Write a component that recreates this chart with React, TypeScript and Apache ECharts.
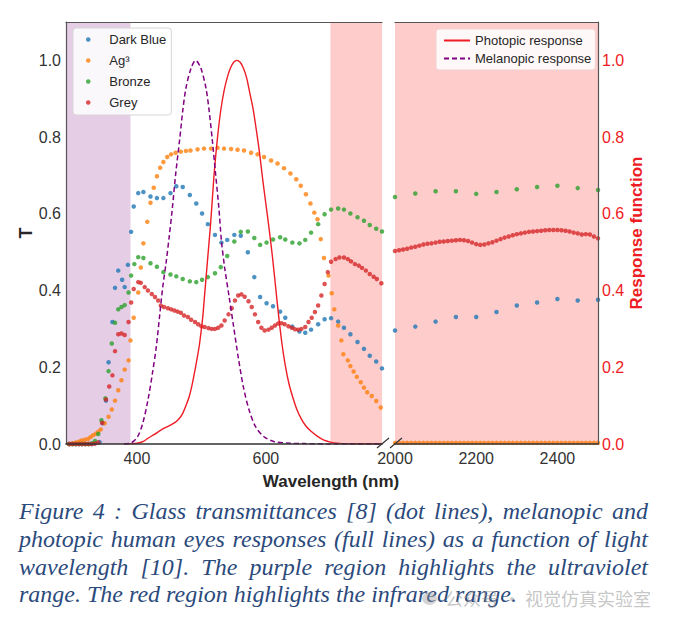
import React, { useEffect, useRef } from 'react';
import * as echarts from 'echarts';

const FONT = '"Liberation Sans", Arial, sans-serif';

// tab10 colours, as in the matplotlib original
const C_BLUE = '#1f77b4';
const C_ORANGE = '#ff7f0e';
const C_GREEN = '#2ca02c';
const C_RED = '#d62728';

const glassNames = ['Dark Blue', 'Ag³', 'Bronze', 'Grey'];
const responseNames = ['Photopic response', 'Melanopic response'];

// transmittance, visible part [nm, T]
const darkBlueVis: [number, number][] = [
  [295, 0], [300, 0], [305, 0], [310, 0], [315, 0], [320, 0], [325, 0], [330, 0], [335, 0.002],
  [342, 0.005], [347, 0.054], [352, 0.113], [356, 0.213], [362, 0.318], [366, 0.407], [371, 0.452],
  [377, 0.428], [381, 0.409], [386, 0.467], [391, 0.553], [395, 0.619], [402, 0.654], [410, 0.657],
  [421, 0.645], [431, 0.641], [441, 0.641], [452, 0.654], [461, 0.672], [471, 0.67], [482, 0.649],
  [492, 0.627], [501, 0.601], [510, 0.573], [521, 0.545], [531, 0.525], [540, 0.532], [551, 0.545],
  [561, 0.543], [572, 0.5], [582, 0.435], [591, 0.383], [601, 0.367], [611, 0.359], [622, 0.345],
  [630, 0.329], [641, 0.306], [652, 0.293], [661, 0.29], [670, 0.298], [681, 0.312], [691, 0.325],
  [701, 0.328], [712, 0.319], [721, 0.303], [731, 0.286], [742, 0.266], [752, 0.248], [761, 0.23],
  [771, 0.215], [780, 0.197],
];

const agVis: [number, number][] = [
  [295, 0], [300, 0.002], [305, 0.004], [310, 0.006], [314, 0.009], [319, 0.011], [324, 0.013],
  [328, 0.018], [332, 0.023], [336, 0.027], [340, 0.032], [344, 0.038], [350, 0.054], [356, 0.071],
  [361, 0.09], [366, 0.113], [371, 0.14], [376, 0.166], [381, 0.194], [387, 0.218], [390, 0.27],
  [395, 0.329], [402, 0.395], [406, 0.46], [410, 0.523], [416, 0.579], [421, 0.629], [426, 0.668],
  [431, 0.698], [436, 0.72], [441, 0.735], [447, 0.748], [453, 0.755], [460, 0.759], [468, 0.762],
  [476, 0.764], [483, 0.765], [494, 0.768], [504, 0.77], [515, 0.77], [525, 0.772], [535, 0.77],
  [546, 0.769], [556, 0.767], [566, 0.765], [577, 0.759], [587, 0.755], [597, 0.748], [608, 0.739],
  [618, 0.731], [628, 0.719], [638, 0.705], [647, 0.69], [654, 0.673], [662, 0.651], [669, 0.627],
  [675, 0.603], [680, 0.586], [685, 0.534], [690, 0.485], [697, 0.439], [702, 0.393], [706, 0.351],
  [712, 0.309], [717, 0.27], [720, 0.234], [727, 0.218], [731, 0.203], [736, 0.189], [741, 0.175],
  [747, 0.161], [752, 0.147], [757, 0.135], [764, 0.125], [771, 0.112], [778, 0.095],
];

const bronzeVis: [number, number][] = [
  [295, 0], [300, 0], [305, 0], [310, 0], [315, 0], [320, 0], [325, 0], [330, 0.002], [335, 0.008],
  [340, 0.026], [345, 0.062], [351, 0.119], [356, 0.19], [361, 0.262], [366, 0.316], [371, 0.351],
  [376, 0.357], [381, 0.362], [387, 0.395], [391, 0.439], [396, 0.469], [402, 0.487], [410, 0.485],
  [421, 0.471], [431, 0.462], [441, 0.448], [452, 0.442], [461, 0.437], [471, 0.43], [482, 0.424],
  [492, 0.422], [501, 0.428], [510, 0.435], [521, 0.445], [530, 0.461], [540, 0.49], [551, 0.528],
  [561, 0.553], [572, 0.554], [582, 0.537], [591, 0.519], [601, 0.525], [611, 0.533], [622, 0.539],
  [630, 0.533], [641, 0.525], [652, 0.523], [661, 0.532], [670, 0.551], [681, 0.573], [691, 0.599],
  [701, 0.611], [712, 0.614], [721, 0.611], [731, 0.601], [742, 0.591], [752, 0.582], [761, 0.571],
  [771, 0.561], [780, 0.554],
];

const greyVis: [number, number][] = [
  [295, 0], [300, 0], [305, 0], [310, 0], [315, 0], [320, 0], [325, 0], [330, 0], [335, 0.001],
  [340, 0.004], [346, 0.055], [352, 0.116], [357, 0.15], [362, 0.179], [366, 0.242], [371, 0.286],
  [376, 0.288], [381, 0.284], [387, 0.318], [391, 0.369], [395, 0.404], [402, 0.422], [406, 0.42],
  [412, 0.409], [417, 0.4], [423, 0.391], [428, 0.383], [433, 0.374], [437, 0.361], [442, 0.357],
  [448, 0.354], [453, 0.351], [458, 0.348], [463, 0.345], [468, 0.342], [473, 0.335], [479, 0.331],
  [484, 0.324], [490, 0.318], [495, 0.312], [500, 0.307], [505, 0.305], [511, 0.302], [516, 0.3],
  [521, 0.3], [526, 0.303], [531, 0.309], [536, 0.322], [542, 0.338], [547, 0.354], [552, 0.374],
  [557, 0.387], [562, 0.39], [567, 0.384], [573, 0.372], [578, 0.357], [583, 0.338], [588, 0.318],
  [593, 0.303], [598, 0.296], [604, 0.298], [609, 0.303], [614, 0.309], [619, 0.314], [624, 0.315],
  [629, 0.312], [635, 0.307], [640, 0.303], [645, 0.299], [650, 0.298], [655, 0.3], [661, 0.305],
  [666, 0.318], [671, 0.329], [676, 0.344], [681, 0.361], [686, 0.387], [691, 0.417], [696, 0.448],
  [701, 0.475], [708, 0.482], [714, 0.486], [721, 0.486], [727, 0.482], [732, 0.476], [738, 0.469],
  [744, 0.465], [749, 0.459], [755, 0.452], [761, 0.443], [767, 0.436], [772, 0.43], [779, 0.419],
];

// transmittance, infrared part
const irSparseWave = [2000, 2050, 2100, 2150, 2200, 2250, 2300, 2350, 2400, 2450, 2500];
const darkBlueIr = [0.296, 0.306, 0.319, 0.331, 0.331, 0.344, 0.361, 0.369, 0.378, 0.374, 0.376];
const bronzeIr = [0.644, 0.653, 0.659, 0.659, 0.652, 0.657, 0.664, 0.67, 0.673, 0.667, 0.662];

const irDenseWave = [
  2000, 2010, 2020, 2030, 2040, 2050, 2060, 2070, 2080, 2090, 2100, 2110, 2120, 2130, 2140, 2150,
  2160, 2170, 2180, 2190, 2200, 2210, 2220, 2230, 2240, 2250, 2260, 2270, 2280, 2290, 2300, 2310,
  2320, 2330, 2340, 2350, 2360, 2370, 2380, 2390, 2400, 2410, 2420, 2430, 2440, 2450, 2460, 2470,
  2480, 2490, 2500,
];
const greyIr = [
  0.503, 0.505, 0.507, 0.509, 0.512, 0.514, 0.517, 0.52, 0.522, 0.523, 0.525, 0.527, 0.528, 0.529,
  0.53, 0.531, 0.532, 0.531, 0.529, 0.525, 0.521, 0.519, 0.52, 0.523, 0.526, 0.53, 0.534, 0.538,
  0.541, 0.544, 0.547, 0.549, 0.551, 0.553, 0.554, 0.555, 0.556, 0.557, 0.558, 0.558, 0.558, 0.557,
  0.556, 0.554, 0.551, 0.549, 0.546, 0.547, 0.546, 0.541, 0.536,
];
const agIr = [
  0.003, 0.003, 0.003, 0.003, 0.003, 0.003, 0.003, 0.003, 0.003, 0.003, 0.003, 0.003, 0.003, 0.003,
  0.003, 0.003, 0.003, 0.003, 0.003, 0.003, 0.003, 0.003, 0.003, 0.003, 0.003, 0.003, 0.003, 0.003,
  0.003, 0.003, 0.003, 0.003, 0.003, 0.003, 0.003, 0.003, 0.003, 0.003, 0.003, 0.003, 0.003, 0.003,
  0.003, 0.003, 0.003, 0.003, 0.003, 0.003, 0.003, 0.003, 0.003,
];

// eye responses (normalised)
const photopic: [number, number][] = [
  [380, 0], [390, 0.001], [400, 0.002], [410, 0.007], [417, 0.015], [427, 0.025], [437, 0.036],
  [448, 0.046], [458, 0.055], [465, 0.065], [471, 0.08], [476, 0.1], [481, 0.123], [485, 0.15],
  [489, 0.184], [493, 0.22], [497, 0.26], [502, 0.33], [505, 0.39], [508, 0.45], [511, 0.51],
  [514, 0.57], [517, 0.64], [520, 0.71], [525, 0.8], [530, 0.87], [535, 0.92], [540, 0.955],
  [545, 0.98], [550, 0.995], [555, 1.0], [560, 0.995], [565, 0.98], [570, 0.955], [575, 0.915],
  [580, 0.875], [585, 0.82], [590, 0.76], [595, 0.69], [600, 0.625], [605, 0.56], [610, 0.49],
  [615, 0.41], [620, 0.33], [625, 0.26], [630, 0.205], [636, 0.155], [642, 0.12], [648, 0.09],
  [655, 0.065], [662, 0.047], [670, 0.033], [680, 0.02], [690, 0.01], [700, 0.005], [710, 0.002],
  [720, 0.001], [740, 0], [780, 0],
];

const melanopic: [number, number][] = [
  [380, 0], [391, 0.003], [401, 0.019], [409, 0.054], [417, 0.114], [424, 0.184], [430, 0.253],
  [435, 0.331], [440, 0.409], [445, 0.47], [450, 0.54], [455, 0.616], [460, 0.703], [466, 0.79],
  [471, 0.868], [476, 0.928], [484, 0.98], [491, 1.0], [499, 0.98], [507, 0.928], [512, 0.868],
  [517, 0.79], [522, 0.703], [527, 0.616], [531, 0.53], [536, 0.46], [543, 0.383], [550, 0.305],
  [557, 0.227], [565, 0.149], [574, 0.088], [584, 0.045], [597, 0.019], [613, 0.006], [637, 0.002],
  [660, 0.001], [700, 0], [780, 0],
];

// shaded ranges [from, to]
const uvRange = [290, 390];
const irRangeVis = [700, 780];
const irRangeFar = [2000, 2500];

const zip = (xs: number[], ys: number[]) => xs.map((x, i) => [x, ys[i]]);

const captionLines = [
  'Figure 4 : Glass transmittances [8] (dot lines), melanopic and',
  'photopic human eyes responses (full lines) as a function of light',
  'wavelength [10]. The purple region highlights the ultraviolet',
  'range. The red region highlights the infrared range.',
];

const scatter = (name: string, color: string, data: number[][], grid: number) => ({
  type: 'scatter',
  name,
  xAxisIndex: grid,
  yAxisIndex: grid,
  data,
  symbolSize: 4.5,
  itemStyle: { color },
  z: 3,
});

const axisBase = {
  type: 'value',
  z: 5,
  axisTick: { show: false },
  splitLine: { show: false },
};

const option = {
  animation: false,
  grid: [
    { left: 66, top: 22, width: 316, height: 422 },
    { left: 395, top: 22, width: 203, height: 422 },
  ],
  xAxis: [
    {
      ...axisBase, gridIndex: 0, min: 290, max: 780, position: 'bottom',
      axisLine: { show: true, onZero: false, lineStyle: { color: '#333', width: 1.6 } },
      axisLabel: {
        customValues: [400, 600], formatter: (v: number) => String(v),
        color: '#333', fontSize: 16, fontFamily: FONT, margin: 6,
      },
    },
    {
      ...axisBase, gridIndex: 1, min: 2000, max: 2500, position: 'bottom',
      axisLine: { show: true, onZero: false, lineStyle: { color: '#333', width: 1.6 } },
      axisLabel: {
        customValues: [2000, 2200, 2400], formatter: (v: number) => String(v),
        color: '#333', fontSize: 16, fontFamily: FONT, margin: 6,
      },
    },
    {
      ...axisBase, gridIndex: 0, min: 290, max: 780, position: 'top',
      axisLine: { show: true, onZero: false, lineStyle: { color: '#555', width: 1.2 } },
      axisLabel: { show: false },
    },
    {
      ...axisBase, gridIndex: 1, min: 2000, max: 2500, position: 'top',
      axisLine: { show: true, onZero: false, lineStyle: { color: '#555', width: 1.2 } },
      axisLabel: { show: false },
    },
  ],
  yAxis: [
    {
      ...axisBase, gridIndex: 0, min: 0, max: 1.1, position: 'left',
      axisLine: { show: true, onZero: false, lineStyle: { color: '#555', width: 1.2 } },
      axisLabel: {
        customValues: [0, 0.2, 0.4, 0.6, 0.8, 1.0],
        formatter: (v: number) => v.toFixed(1),
        color: '#333', fontSize: 16, fontFamily: FONT, margin: 5,
      },
      name: 'T',
      nameLocation: 'middle',
      nameGap: 29,
      nameTextStyle: { fontWeight: 'bold', fontSize: 18, color: '#262626', fontFamily: FONT },
    },
    {
      ...axisBase, gridIndex: 1, min: 0, max: 1.1, position: 'right',
      axisLine: { show: true, onZero: false, lineStyle: { color: '#555', width: 1.2 } },
      axisLabel: {
        customValues: [0, 0.2, 0.4, 0.6, 0.8, 1.0],
        formatter: (v: number) => v.toFixed(1),
        color: '#ee1c25', fontSize: 16, fontFamily: FONT, margin: 4,
      },
      name: 'Response function',
      nameLocation: 'middle',
      nameGap: 28,
      nameTextStyle: { fontWeight: 'bold', fontSize: 17, color: '#ee1c25', fontFamily: FONT },
    },
  ],
  legend: [
    {
      data: glassNames,
      orient: 'vertical',
      left: 73,
      top: 28,
      icon: 'circle',
      itemWidth: 32,
      itemHeight: 4.5,
      itemGap: 6,
      padding: [4, 5, 5, 13],
      backgroundColor: 'rgba(255,255,255,0.85)',
      borderColor: '#d6d6d6',
      borderWidth: 1,
      borderRadius: 3,
      textStyle: { fontSize: 13, color: '#262626', fontFamily: FONT, lineHeight: 15 },
    },
    {
      data: responseNames,
      orient: 'vertical',
      left: 436,
      top: 29,
      itemWidth: 26,
      itemHeight: 14,
      itemGap: 3,
      padding: [4, 4, 4, 7],
      itemStyle: { opacity: 0 },
      backgroundColor: 'rgba(255,255,255,0.85)',
      borderColor: '#f0d0d0',
      borderWidth: 1,
      borderRadius: 3,
      textStyle: { fontSize: 13, color: '#262626', fontFamily: FONT, lineHeight: 15 },
    },
  ],
  series: [
    {
      type: 'line', name: 'bg-vis', xAxisIndex: 0, yAxisIndex: 0, z: 1, silent: true,
      data: [[uvRange[0], -1]], symbol: 'none', lineStyle: { opacity: 0 },
      markArea: {
        silent: true,
        data: [
          [{ xAxis: uvRange[0], itemStyle: { color: '#e5cde6' } }, { xAxis: uvRange[1] }],
          [{ xAxis: irRangeVis[0], itemStyle: { color: '#ffcccc' } }, { xAxis: irRangeVis[1] }],
        ],
      },
    },
    {
      type: 'line', name: 'bg-ir', xAxisIndex: 1, yAxisIndex: 1, z: 1, silent: true,
      data: [[irRangeFar[0], -1]], symbol: 'none', lineStyle: { opacity: 0 },
      markArea: {
        silent: true,
        data: [[{ xAxis: irRangeFar[0], itemStyle: { color: '#ffcccc' } }, { xAxis: irRangeFar[1] }]],
      },
    },
    scatter('Dark Blue', C_BLUE, darkBlueVis, 0),
    scatter('Ag³', C_ORANGE, agVis, 0),
    scatter('Bronze', C_GREEN, bronzeVis, 0),
    scatter('Grey', C_RED, greyVis, 0),
    scatter('Dark Blue', C_BLUE, zip(irSparseWave, darkBlueIr), 1),
    scatter('Ag³', C_ORANGE, zip(irDenseWave, agIr), 1),
    scatter('Bronze', C_GREEN, zip(irSparseWave, bronzeIr), 1),
    scatter('Grey', C_RED, zip(irDenseWave, greyIr), 1),
    {
      type: 'line', name: 'Photopic response', xAxisIndex: 0, yAxisIndex: 0, z: 4,
      data: photopic, symbol: 'none', smooth: 0.3,
      lineStyle: { color: '#ee1c25', width: 1.4 },
      itemStyle: { color: '#ee1c25' },
    },
    {
      type: 'line', name: 'Melanopic response', xAxisIndex: 0, yAxisIndex: 0, z: 4,
      data: melanopic, symbol: 'none', smooth: 0.3,
      lineStyle: { color: '#800080', width: 1.5, type: [5, 3] },
      itemStyle: { color: '#800080' },
    },
  ],
  graphic: [
    { type: 'line', shape: { x1: 377, y1: 448, x2: 389, y2: 438 }, style: { stroke: '#333', lineWidth: 1.2 }, z: 10 },
    { type: 'line', shape: { x1: 390, y1: 448, x2: 402, y2: 438 }, style: { stroke: '#333', lineWidth: 1.2 }, z: 10 },
    {
      type: 'text', x: 331, y: 481, z: 10,
      style: {
        text: 'Wavelength (nm)', font: `bold 17px ${FONT}`, fill: '#262626',
        align: 'center', verticalAlign: 'middle',
      },
    },
  ],
};

export default function App() {
  const chartRef = useRef<HTMLDivElement>(null);

  useEffect(() => {
    const chart = echarts.init(chartRef.current, null, { renderer: 'svg' });
    chart.setOption(option as any);
    return () => chart.dispose();
  }, []);

  return (
    <div style={{ position: 'absolute', left: 0, top: 0, width: 675, height: 624, background: '#fff', overflow: 'hidden' }}>
      <div ref={chartRef} style={{ position: 'absolute', left: 0, top: 0, width: 675, height: 495 }} />
      <div
        style={{
          position: 'absolute', left: 19, top: 498, width: 629,
          fontFamily: '"Liberation Serif", "Times New Roman", serif', fontStyle: 'italic',
          fontSize: 24, color: '#2b4a7c',
        }}
      >
        {captionLines.map((line, i) => (
          <div
            key={i}
            style={{
              height: 27.8, lineHeight: '27.8px', whiteSpace: 'nowrap',
              textAlign: i < 3 ? 'justify' : 'left',
              textAlignLast: i < 3 ? 'justify' : 'left',
            }}
          >
            {line}
          </div>
        ))}
      </div>
      <div
        style={{
          position: 'absolute', left: 422, top: 585, display: 'flex', alignItems: 'center',
          fontFamily: '"Noto Sans CJK SC", sans-serif', fontSize: 18, color: 'rgba(150,150,150,0.55)',
          whiteSpace: 'nowrap',
        }}
      >
        <span style={{ display: 'inline-block', width: 15, height: 13, borderRadius: '50%', background: 'rgba(150,150,150,0.4)', marginRight: 8 }} />
        <span>公众号 · 视觉仿真实验室</span>
      </div>
    </div>
  );
}
